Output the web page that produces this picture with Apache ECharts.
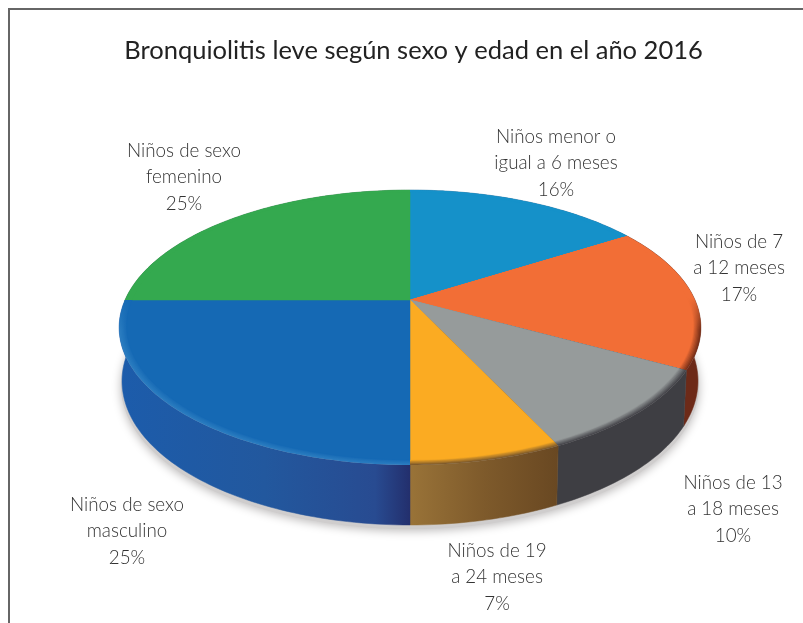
<!DOCTYPE html>
<html>
<head>
<meta charset="utf-8">
<style>
  html, body { margin: 0; padding: 0; background: #fff; }
  #chart { width: 803px; height: 623px; }
</style>
</head>
<body>
<div id="chart"></div>
<script src="https://cdn.jsdelivr.net/npm/echarts@6/dist/echarts.min.js"></script>
<script>
const title = 'Bronquiolitis leve según sexo y edad en el año 2016'
const categories = [
  'Niños menor o\nigual a 6 meses',
  'Niños de 7\na 12 meses',
  'Niños de 13\na 18 meses',
  'Niños de 19\na 24 meses',
  'Niños de sexo\nmasculino',
  'Niños de sexo\nfemenino',
]
const values = [16, 17, 10, 7, 25, 25]

// styling, one entry per slice
const faceColors = ['#1591c9', '#f26e36', '#969b9b', '#fbab22', '#1569b4', '#34a94f']
const rimColors = ['#1591c9', '#7a3018', '#45454a', '#7e5a2b', '#2a7cc0', '#34a94f']
const wallStops = [
  [[0, '#14689a'], [1, '#14689a']],
  [[0, '#6d2a18'], [1, '#6d2a18']],
  [[0, '#3e3e43'], [1, '#3e3e43']],
  [[0, '#997338'], [0.5, '#7e5a2b'], [1, '#694822']],
  [[0, '#1c5cab'], [0.5, '#22589e'], [0.88, '#284b91'], [1, '#232f6d']],
  [[0, '#1f7a38'], [1, '#1f7a38']],
]
const labelCenters = [[556, 163], [739, 268], [733, 509], [497, 577], [127, 531], [184, 177]]

// perspective of the disc: nearer side is larger
const CX = 410
const CY = 300
const RX = 285
const RY = 132
const TILT = 0.2
const BEVEL = 0.975
const BANDS = 6

const total = values.reduce((a, b) => a + b, 0)

function sliceAngles(i) {
  const before = values.slice(0, i).reduce((a, b) => a + b, 0)
  return [before / total * Math.PI * 2, (before + values[i]) / total * Math.PI * 2]
}

function project(theta, r) {
  const u = Math.sin(theta) * r
  const v = Math.cos(theta) * r
  const d = 1 + TILT * v
  return [CX + RX * u / d, CY - RY * v / d]
}

function projectBottom(theta) {
  const p = project(theta, 1)
  return [CX + (p[0] - CX) * 0.99, p[1] + 52 - 8 * Math.cos(theta)]
}

function arc(a0, a1, fn) {
  const steps = Math.max(2, Math.ceil((a1 - a0) / 0.02))
  const pts = []
  for (let k = 0; k <= steps; k++) pts.push(fn(a0 + (a1 - a0) * k / steps))
  return pts
}

function mix(c1, c2, t) {
  const a = parseInt(c1.slice(1), 16)
  const b = parseInt(c2.slice(1), 16)
  const ch = s => Math.round(((a >> s) & 255) * (1 - t) + ((b >> s) & 255) * t)
  return `rgb(${ch(16)},${ch(8)},${ch(0)})`
}

function renderShadow() {
  const pts = arc(0, Math.PI * 2, t => {
    const p = projectBottom(t)
    return [CX + (p[0] - CX) * 1.004, p[1] + 4]
  })
  return {
    type: 'polygon',
    shape: { points: pts },
    style: {
      fill: '#cfcdcd',
      shadowBlur: 10,
      shadowColor: '#bdbbbb',
      shadowOffsetY: 2,
    },
  }
}

function renderWall(params, api) {
  const i = api.value(0)
  const [a0, a1] = sliceAngles(i)
  const top = arc(a0, a1, t => project(t, 1))
  const bottom = arc(a0, a1, projectBottom).reverse()
  const xs = top.map(p => p[0])
  const color = new echarts.graphic.LinearGradient(
    Math.min(...xs), 0, Math.max(...xs), 0,
    wallStops[i].map(s => ({ offset: s[0], color: s[1] })),
    true
  )
  return {
    type: 'polygon',
    shape: { points: top.concat(bottom) },
    style: { fill: color, stroke: color, lineWidth: 0.5 },
  }
}

function renderTop(params, api) {
  const i = api.value(0)
  const [a0, a1] = sliceAngles(i)
  const children = []
  // soft rounded edge: rings fading from face colour to rim colour, only on the near side
  for (let b = BANDS - 1; b >= 0; b--) {
    const t = (b + 1) / BANDS
    const r = BEVEL + (1 - BEVEL) * t
    const color = new echarts.graphic.LinearGradient(0, CY - 2, 0, CY + 30, [
      { offset: 0, color: faceColors[i] },
      { offset: 1, color: mix(faceColors[i], rimColors[i], t) },
    ], true)
    children.push({
      type: 'polygon',
      shape: { points: [[CX, CY]].concat(arc(a0, a1, th => project(th, r))) },
      style: { fill: color },
    })
  }
  children.push({
    type: 'polygon',
    shape: { points: [[CX, CY]].concat(arc(a0, a1, th => project(th, BEVEL))) },
    style: { fill: faceColors[i], stroke: faceColors[i], lineWidth: 0.5 },
  })
  return { type: 'group', children }
}

function renderLabel(params, api) {
  const i = api.value(0)
  return {
    type: 'text',
    style: {
      x: labelCenters[i][0],
      y: labelCenters[i][1],
      text: `${categories[i]}\n${values[i]}%`,
      align: 'center',
      verticalAlign: 'middle',
      fontFamily: 'Lato',
      fontWeight: 300,
      fontSize: 18.8,
      lineHeight: 26.5,
      fill: '#333',
    },
  }
}

const chart = echarts.init(document.getElementById('chart'))
const rows = categories.map((c, i) => [i])

chart.setOption({
  animation: false,
  title: {
    text: title,
    left: 408.5,
    top: 33,
    textAlign: 'center',
    textStyle: {
      fontFamily: 'Lato',
      fontWeight: 400,
      fontSize: 25.5,
      color: '#222',
    },
  },
  graphic: [{
    type: 'rect',
    shape: { x: 9, y: 9, width: 900, height: 800 },
    style: { fill: 'none', stroke: '#666', lineWidth: 2 },
    silent: true,
  }],
  series: [
    { type: 'custom', coordinateSystem: 'none', data: [[0]], renderItem: renderShadow, silent: true },
    { type: 'custom', coordinateSystem: 'none', data: rows, renderItem: renderWall, silent: true },
    { type: 'custom', coordinateSystem: 'none', data: rows, renderItem: renderTop, silent: true },
    { type: 'custom', coordinateSystem: 'none', data: rows, renderItem: renderLabel, silent: true },
  ],
})
</script>
</body>
</html>
